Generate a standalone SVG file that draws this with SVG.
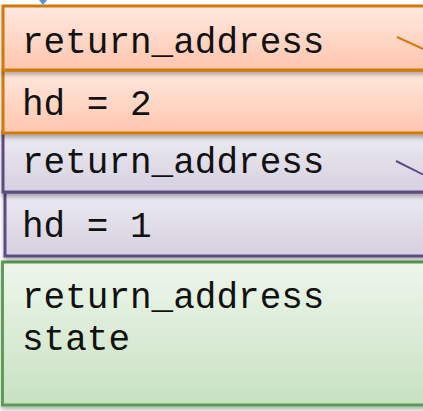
<svg xmlns="http://www.w3.org/2000/svg" width="423" height="411" viewBox="0 0 423 411">
<defs>
<linearGradient id="gO" x1="0" y1="0" x2="0" y2="1"><stop offset="0" stop-color="#ffe9e0"/><stop offset="1" stop-color="#ffc5ad"/></linearGradient>
<linearGradient id="gP" x1="0" y1="0" x2="0" y2="1"><stop offset="0" stop-color="#ecebf1"/><stop offset="1" stop-color="#d5d0e0"/></linearGradient>
<linearGradient id="gG" x1="0" y1="0" x2="0" y2="1"><stop offset="0" stop-color="#eef6ec"/><stop offset="1" stop-color="#c7e1c1"/></linearGradient>
<filter id="sh" x="-5%" y="-5%" width="115%" height="125%"><feDropShadow dx="0" dy="3" stdDeviation="2" flood-color="#000" flood-opacity="0.3"/></filter>
</defs>
<style>
.o{fill:url(#gO);stroke:#d2790c;stroke-width:3}
.p{fill:url(#gP);stroke:#5d4b86;stroke-width:3}
.g{fill:url(#gG);stroke:#5c9e52;stroke-width:3}
.t{font-family:"Liberation Mono","Courier New",monospace;font-size:36px;fill:#111}
</style>
<g id="green">
<rect class="g" x="2.5" y="262" width="440" height="143" filter="url(#sh)"/>
<text class="t" x="22" y="308">return_address</text>
<text class="t" x="22" y="350">state</text>
</g>
<g id="hd1">
<rect class="p" x="5" y="192" width="440" height="64" filter="url(#sh)"/>
<text class="t" x="22" y="237">hd = 1</text>
</g>
<g id="ret2">
<rect class="p" x="3" y="132" width="440" height="60" filter="url(#sh)"/>
<text class="t" x="22" y="173">return_address</text>
</g>
<g id="hd2">
<rect class="o" x="3" y="70" width="440" height="63" filter="url(#sh)"/>
<text class="t" x="22" y="115">hd = 2</text>
</g>
<g id="ret1">
<rect class="o" x="3" y="6" width="440" height="64" filter="url(#sh)"/>
<text class="t" x="22" y="53">return_address</text>
</g>
<g id="connectors">
<line x1="397" y1="37" x2="430" y2="52" stroke="#d2790c" stroke-width="2"/>
<line x1="396" y1="161" x2="430" y2="178" stroke="#5d4b86" stroke-width="2"/>
<polygon points="39,0 47,0 43,5" fill="#5b8fd6"/>
</g>
</svg>
